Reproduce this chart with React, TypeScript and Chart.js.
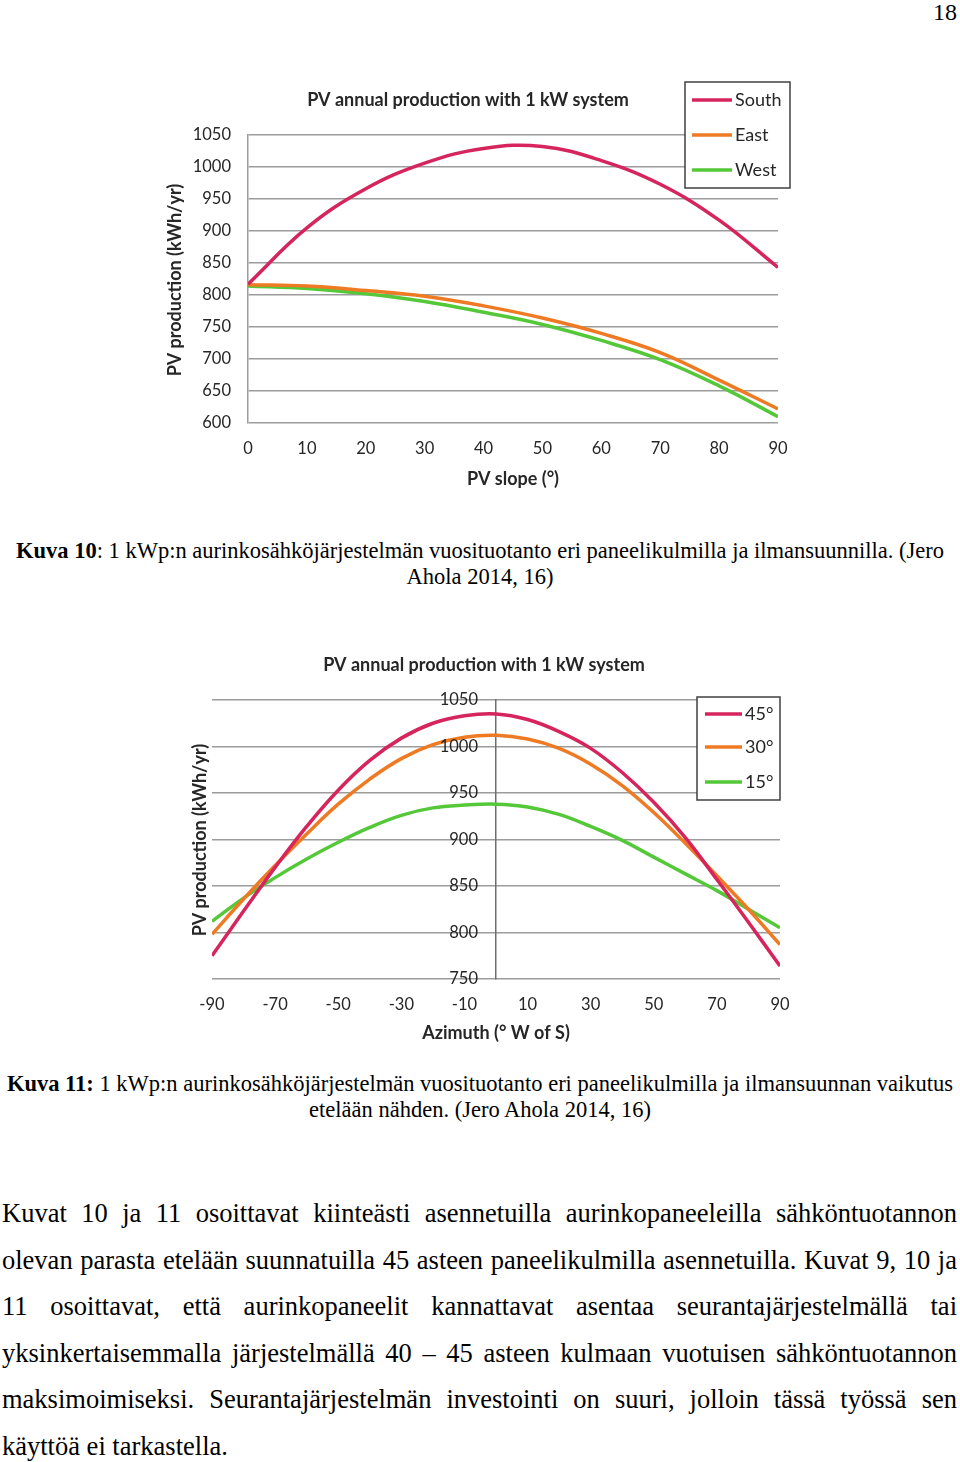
import React, { useEffect, useRef } from "react";
import { Chart, registerables } from "chart.js";

Chart.register(...registerables);

// ---------- Chart 1 data (PV slope) ----------
const slopeCategories = [0, 10, 20, 30, 40, 50, 60, 70, 80, 90];
const southValues = [817, 905, 966, 1006, 1029, 1032, 1010, 973, 917, 843];
const eastValues = [816, 814, 807, 798, 783, 764, 740, 710, 667, 622];
const westValues = [814, 810, 802, 790, 773, 754, 729, 699, 658, 610];
const slopeSeriesNames = ["South", "East", "West"];

// ---------- Chart 2 data (Azimuth) ----------
const azimuthCategories = [-90, -80, -70, -60, -50, -40, -30, -20, -10, 0, 10, 20, 30, 40, 50, 60, 70, 80, 90];
const tilt45Values = [775, 823, 870, 914, 953, 985, 1009, 1025, 1033, 1035, 1029, 1016, 998, 972, 940, 902, 857, 811, 764];
const tilt30Values = [798, 836, 872, 906, 938, 965, 987, 1002, 1010, 1012, 1008, 998, 981, 958, 929, 896, 861, 825, 787];
const tilt15Values = [812, 837, 859, 879, 897, 913, 926, 934, 937, 938, 935, 927, 914, 899, 881, 863, 845, 825, 805];
const azimuthTickLabels = [-90, -70, -50, -30, -10, 10, 30, 50, 70, 90];
const tiltSeriesNames = ["45°", "30°", "15°"];

const chartTitle = "PV annual production with 1 kW system";
const yTitle = "PV production (kWh/yr)";

const RED = "#d6255c";
const ORANGE = "#ee7a24";
const GREEN = "#55c83a";
const FONT = "Lato, 'Open Sans', sans-serif";
const TEXT = "#262626";
const GRID = "#9c9c9c";

type Decor = {
  title: { x: number; y: number };
  legend: { x: number; y: number; w: number; h: number; rows: number[]; lineX: number; lineLen: number; textX: number };
  names: string[];
  colors: string[];
  yTitle: { x: number; y: number };
  xTitle: { x: number; y: number; text: string };
  centerYLabels?: { atX: number; gap: number };
};

function decorPlugin(d: Decor) {
  return {
    id: "decor",
    afterDraw(chart: any) {
      const ctx = chart.ctx as CanvasRenderingContext2D;
      ctx.save();
      if (d.centerYLabels) {
        const ys = chart.scales.y;
        const xs = chart.scales.x;
        const px = xs.getPixelForValue(d.centerYLabels.atX) - d.centerYLabels.gap;
        ctx.fillStyle = TEXT;
        ctx.font = `16.5px ${FONT}`;
        ctx.textAlign = "right";
        ctx.textBaseline = "middle";
        ys.ticks.forEach((t: any) => {
          ctx.fillText(String(t.value), px, ys.getPixelForValue(t.value));
        });
      }
      ctx.fillStyle = TEXT;
      ctx.font = `bold 18px ${FONT}`;
      ctx.textAlign = "center";
      ctx.textBaseline = "middle";
      ctx.fillText(chartTitle, d.title.x, d.title.y);
      ctx.fillText(d.xTitle.text, d.xTitle.x, d.xTitle.y);
      ctx.save();
      ctx.translate(d.yTitle.x, d.yTitle.y);
      ctx.rotate(-Math.PI / 2);
      ctx.fillText(yTitle, 0, 0);
      ctx.restore();
      const L = d.legend;
      ctx.fillStyle = "#ffffff";
      ctx.fillRect(L.x, L.y, L.w, L.h);
      ctx.strokeStyle = "#404040";
      ctx.lineWidth = 1.5;
      ctx.strokeRect(L.x, L.y, L.w, L.h);
      ctx.font = `18px ${FONT}`;
      ctx.textAlign = "left";
      d.names.forEach((n, i) => {
        ctx.strokeStyle = d.colors[i];
        ctx.lineWidth = 3.5;
        ctx.beginPath();
        ctx.moveTo(L.lineX, L.rows[i]);
        ctx.lineTo(L.lineX + L.lineLen, L.rows[i]);
        ctx.stroke();
        ctx.fillStyle = TEXT;
        ctx.fillText(n, L.textX, L.rows[i]);
      });
      ctx.restore();
    },
  };
}

function ds(label: string, data: any[], color: string) {
  return {
    label,
    data,
    borderColor: color,
    backgroundColor: color,
    borderWidth: 3.5,
    pointRadius: 0,
    tension: 0.4,
    fill: false,
  };
}

const plainTick = (v: any) => String(v);
const fixX = (h: number) => (s: any) => { s.height = h; s.paddingLeft = 0; s.paddingRight = 0; };
const fixY = (w: number | null) => (s: any) => { if (w !== null) s.width = w; s.paddingTop = 0; s.paddingBottom = 0; };

function SlopeChart() {
  const ref = useRef<HTMLCanvasElement>(null);
  useEffect(() => {
    if (!ref.current) return;
    const toXY = (vals: number[]) => slopeCategories.map((x, i) => ({ x, y: vals[i] }));
    const chart = new Chart(ref.current, {
      type: "line",
      data: {
        datasets: [
          ds(slopeSeriesNames[0], toXY(southValues), RED),
          ds(slopeSeriesNames[1], toXY(eastValues), ORANGE),
          ds(slopeSeriesNames[2], toXY(westValues), GREEN),
        ],
      },
      options: {
        animation: false,
        responsive: false,
        layout: { autoPadding: false, padding: { top: 55, right: 22, left: 0, bottom: 0 } },
        plugins: { legend: { display: false }, title: { display: false }, tooltip: { enabled: false } },
        scales: {
          x: {
            type: "linear",
            min: 0,
            max: 90,
            afterFit: fixX(77),
            ticks: { stepSize: 10, padding: 16, color: TEXT, font: { family: FONT, size: 16.5 }, maxRotation: 0, autoSkip: false, callback: plainTick },
            grid: { display: false, drawTicks: false },
            border: { display: false },
          },
          y: {
            min: 600,
            max: 1050,
            afterFit: fixY(88),
            ticks: { stepSize: 50, padding: 17, color: TEXT, font: { family: FONT, size: 16.5 }, callback: plainTick },
            grid: { color: GRID, lineWidth: 1.5, drawTicks: false },
            border: { display: true, color: GRID, width: 1.5 },
          },
        },
      },
      plugins: [
        decorPlugin({
          title: { x: 308, y: 20 },
          legend: { x: 525, y: 2, w: 105, h: 106, rows: [20, 55, 90], lineX: 532, lineLen: 40, textX: 575 },
          names: slopeSeriesNames,
          colors: [RED, ORANGE, GREEN],
          yTitle: { x: 15, y: 200 },
          xTitle: { x: 353, y: 399, text: "PV slope (°)" },
        }),
      ],
    } as any);
    return () => chart.destroy();
  }, []);
  return <canvas ref={ref} width={640} height={420} style={{ position: "absolute", left: 160, top: 80, width: 640, height: 420 }} />;
}

function AzimuthChart() {
  const ref = useRef<HTMLCanvasElement>(null);
  useEffect(() => {
    if (!ref.current) return;
    const toXY = (vals: number[]) => azimuthCategories.map((x, i) => ({ x, y: vals[i] }));
    const chart = new Chart(ref.current, {
      type: "line",
      data: {
        datasets: [
          ds(tiltSeriesNames[0], toXY(tilt45Values), RED),
          ds(tiltSeriesNames[1], toXY(tilt30Values), ORANGE),
          ds(tiltSeriesNames[2], toXY(tilt15Values), GREEN),
        ],
      },
      options: {
        animation: false,
        responsive: false,
        layout: { autoPadding: false, padding: { top: 50, right: 20, left: 32, bottom: 0 } },
        plugins: { legend: { display: false }, title: { display: false }, tooltip: { enabled: false } },
        scales: {
          x: {
            type: "linear",
            min: -90,
            max: 90,
            afterFit: fixX(71),
            afterBuildTicks: (s: any) => { s.ticks = azimuthTickLabels.map((v) => ({ value: v })); },
            ticks: { padding: 16, color: TEXT, font: { family: FONT, size: 16.5 }, maxRotation: 0, autoSkip: false, callback: plainTick },
            grid: { display: false, drawTicks: false },
            border: { display: false },
          },
          y: {
            position: { x: 0 },
            min: 750,
            max: 1050,
            afterFit: fixY(null),
            ticks: { stepSize: 50, display: false },
            grid: { color: GRID, lineWidth: 1.5, drawTicks: false },
            border: { display: true, color: "#6e6e6e", width: 1.5 },
          },
        },
      },
      plugins: [
        decorPlugin({
          title: { x: 304, y: 15 },
          legend: { x: 517, y: 47, w: 83, h: 103, rows: [64, 97, 132], lineX: 525, lineLen: 37, textX: 565 },
          names: tiltSeriesNames,
          colors: [RED, ORANGE, GREEN],
          yTitle: { x: 20, y: 190 },
          xTitle: { x: 316, y: 383, text: "Azimuth (° W of S)" },
          centerYLabels: { atX: 0, gap: 18 },
        }),
      ],
    } as any);
    return () => chart.destroy();
  }, []);
  return <canvas ref={ref} width={620} height={400} style={{ position: "absolute", left: 180, top: 650, width: 620, height: 400 }} />;
}

const serif = "'Liberation Serif', 'Times New Roman', serif";

const bodyLines = [
  "Kuvat 10 ja 11 osoittavat kiinteästi asennetuilla aurinkopaneeleilla sähköntuotannon",
  "olevan parasta etelään suunnatuilla 45 asteen paneelikulmilla asennetuilla. Kuvat 9, 10 ja",
  "11 osoittavat, että aurinkopaneelit kannattavat asentaa seurantajärjestelmällä tai",
  "yksinkertaisemmalla järjestelmällä 40 – 45 asteen kulmaan vuotuisen sähköntuotannon",
  "maksimoimiseksi. Seurantajärjestelmän investointi on suuri, jolloin tässä työssä sen",
  "käyttöä ei tarkastella.",
];

const captionStyle: any = { position: "absolute", left: 0, width: 960, textAlign: "center", fontSize: 22.5, lineHeight: "26px", whiteSpace: "nowrap" };

export default function App() {
  return (
    <div style={{ position: "absolute", left: 0, top: 0, width: 960, height: 1462, background: "#fff", overflow: "hidden", fontFamily: serif, color: "#000" }}>
      <div style={{ position: "absolute", right: 3, top: 0, fontSize: 24, lineHeight: "24px" }}>18</div>
      <SlopeChart />
      <div style={{ ...captionStyle, top: 538 }}>
        <div><b>Kuva 10</b>: 1 kWp:n aurinkosähköjärjestelmän vuosituotanto eri paneelikulmilla ja ilmansuunnilla. (Jero</div>
        <div>Ahola 2014, 16)</div>
      </div>
      <AzimuthChart />
      <div style={{ ...captionStyle, top: 1071 }}>
        <div><b>Kuva 11:</b> 1 kWp:n aurinkosähköjärjestelmän vuosituotanto eri paneelikulmilla ja ilmansuunnan vaikutus</div>
        <div>etelään nähden. (Jero Ahola 2014, 16)</div>
      </div>
      <div style={{ position: "absolute", left: 2, top: 1190, width: 955, fontSize: 26.5, lineHeight: "46.6px" }}>
        {bodyLines.map((l, i) => {
          const last = i === bodyLines.length - 1;
          return (
            <div
              key={i}
              style={{
                textAlign: last ? "left" : "justify",
                textAlignLast: last ? "left" : "justify",
                whiteSpace: "nowrap",
              } as any}
            >
              {l}
            </div>
          );
        })}
      </div>
    </div>
  );
}
